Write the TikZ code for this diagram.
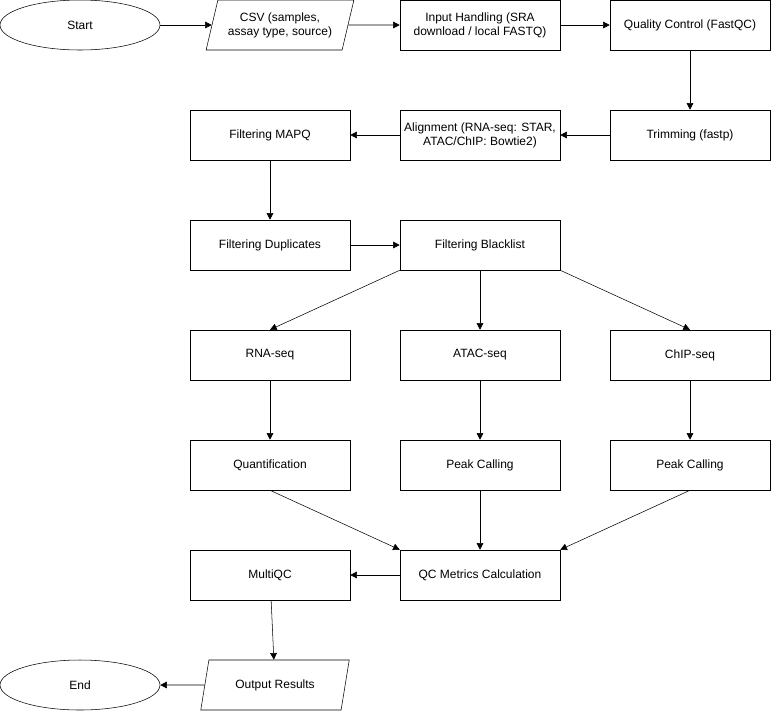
\documentclass[tikz,border=0pt]{standalone}
\usepackage{fontspec}
\setmainfont{Liberation Sans}
\usetikzlibrary{shapes.geometric,arrows.meta}

\begin{document}
\begin{tikzpicture}[
    x=0.75pt,y=-0.75pt,
	box/.style={draw, minimum width=120pt, minimum height=37.5pt, align=center, inner sep=1pt, font=\fontsize{9}{10.5}\selectfont},
	io/.style={draw, trapezium, trapezium left angle=70, trapezium right angle=110, minimum width=85pt, minimum height=37.5pt, trapezium stretches=true, align=center, inner sep=1pt, font=\fontsize{9}{10.5}\selectfont},
	term/.style={draw, ellipse, minimum width=120pt, minimum height=37.5pt, font=\fontsize{9}{10.5}\selectfont},
	arr/.style={-{Triangle[length=5pt,width=5pt]}}
]
\useasboundingbox (0,0) rectangle (771,711);

\node[term] (start) at (80,25) {Start};
\node[io, minimum width=112pt] (csv) at (280,25) {CSV (samples,\\assay type, source)};
\node[box] (input) at (480,25) {Input Handling (SRA\\download / local FASTQ)};
\node[box] (qc) at (690,25) {Quality Control (FastQC)};
\node[box] (trim) at (690,135) {Trimming (fastp)};
\node[box] (align) at (480,135) {Alignment (RNA-seq: STAR,\\ATAC/ChIP: Bowtie2)};
\node[box] (mapq) at (270,135) {Filtering MAPQ};
\node[box] (dup) at (270,245) {Filtering Duplicates};
\node[box] (black) at (480,245) {Filtering Blacklist};
\node[box] (rna) at (270,355) {RNA-seq};
\node[box] (atac) at (480,355) {ATAC-seq};
\node[box] (chip) at (690,355) {ChIP-seq};
\node[box] (quant) at (270,465) {Quantification};
\node[box] (peakA) at (480,465) {Peak Calling};
\node[box] (peakC) at (690,465) {Peak Calling};
\node[box] (metrics) at (480,575) {QC Metrics Calculation};
\node[box] (multi) at (270,575) {MultiQC};
\node[io, minimum width=112pt] (out) at (275,685) {Output Results};
\node[term] (end) at (80,685) {End};

\draw[arr] (start) -- (csv);
\draw[arr] (csv) -- (input);
\draw[arr] (input) -- (qc);
\draw[arr] (qc) -- (trim);
\draw[arr] (trim) -- (align);
\draw[arr] (align) -- (mapq);
\draw[arr] (mapq) -- (dup);
\draw[arr] (dup) -- (black);
\draw[arr] (black.south west) ++(0,0) -- (rna.north);
\draw[arr] (black) -- (atac);
\draw[arr] (black.south east) -- (chip.north);
\draw[arr] (rna) -- (quant);
\draw[arr] (atac) -- (peakA);
\draw[arr] (chip) -- (peakC);
\draw[arr] (quant.south) -- (metrics.north west);
\draw[arr] (peakA) -- (metrics);
\draw[arr] (peakC.south) -- (metrics.north east);
\draw[arr] (metrics) -- (multi);
\draw[arr] (multi) -- (out);
\draw[arr] (out) -- (end);
\end{tikzpicture}
\end{document}
